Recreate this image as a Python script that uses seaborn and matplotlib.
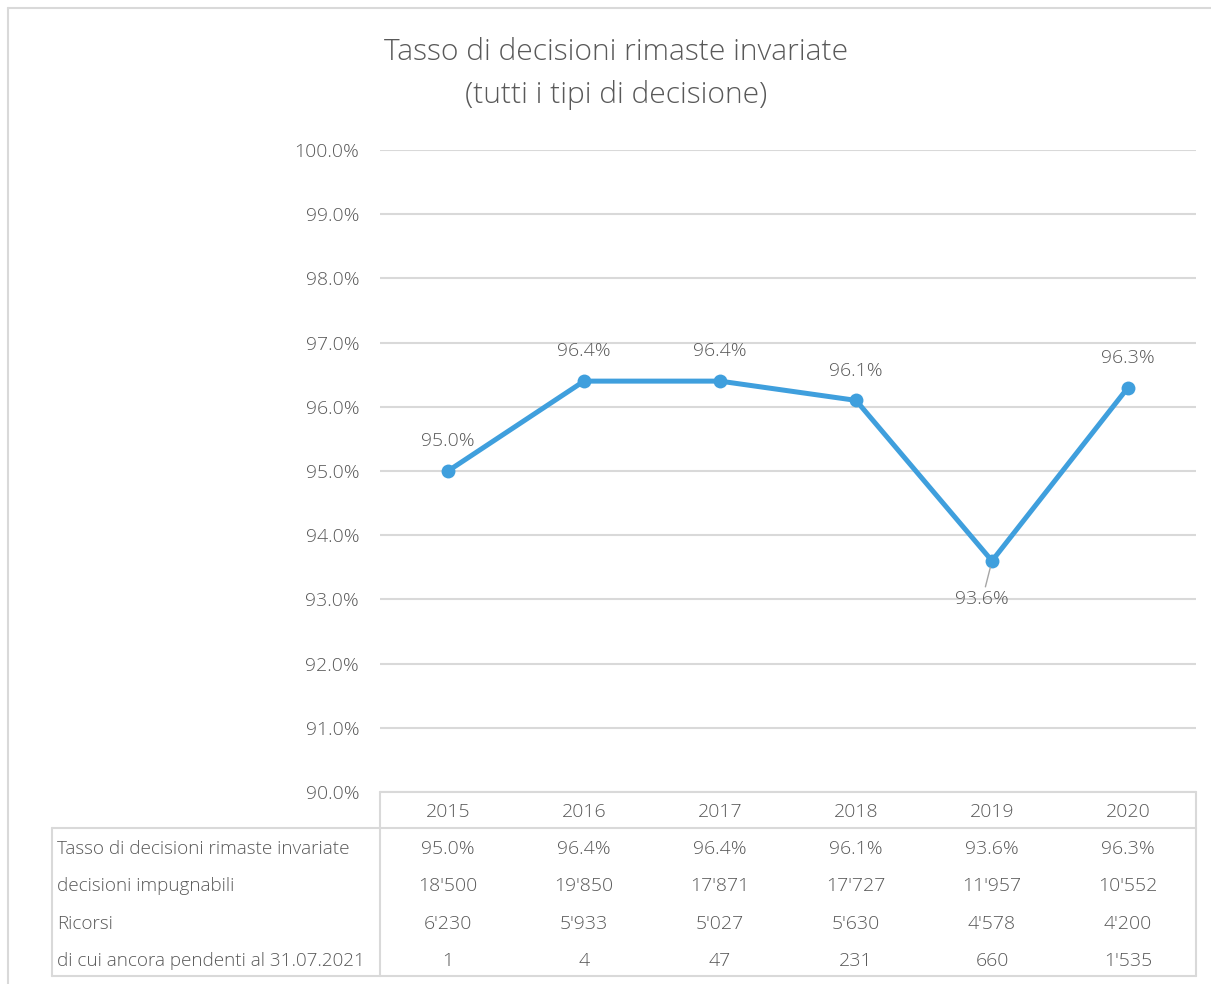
import numpy as np
import pandas as pd
import matplotlib
matplotlib.use("Agg")
import matplotlib.pyplot as plt
from matplotlib.lines import Line2D
import seaborn as sns

####################################################################################
## DATA
years = ["2015", "2016", "2017", "2018", "2019", "2020"]
tasso = [95.0, 96.4, 96.4, 96.1, 93.6, 96.3]
impugnabili = ["18'500", "19'850", "17'871", "17'727", "11'957", "10'552"]
ricorsi = ["6'230", "5'933", "5'027", "5'630", "4'578", "4'200"]
pendenti = ["1", "4", "47", "231", "660", "1'535"]

row_labels = ["Tasso di decisioni rimaste invariate",
              "decisioni impugnabili",
              "Ricorsi",
              "di cui ancora pendenti al 31.07.2021"]
title = "Tasso di decisioni rimaste invariate\n(tutti i tipi di decisione)"

df = pd.DataFrame({"pos": range(len(years)), "tasso": tasso})
####################################################################################

sns.set_theme(style="white")
plt.rcParams["font.family"] = ["Open Sans", "DejaVu Sans"]
plt.rcParams["font.weight"] = "light"

txt = "#595959"
grid = "#d9d9d9"
blue = "#3f9fdd"
fs = 14

W, H = 1211, 984
fig = plt.figure(figsize=(W / 100, H / 100), dpi=100)

# main plot area (pixels: x 380-1196, y 150-792)
ax = fig.add_axes([380 / W, 1 - 792 / H, (1196 - 380) / W, (792 - 150) / H])
sns.lineplot(data=df, x="pos", y="tasso", ax=ax, color=blue, linewidth=3.6,
             marker="o", markersize=10, markeredgewidth=0, zorder=3)
ax.set_xlim(-0.5, len(years) - 0.5)
ax.set_ylim(90, 100)
ax.set_yticks(np.arange(90, 100.1, 1))
ax.set_yticklabels([f"{v:.1f}%" for v in np.arange(90, 100.1, 1)],
                   color=txt, fontsize=fs)
ax.tick_params(axis="y", length=0, pad=15)
ax.set_xticks([])
ax.set_xlabel("")
ax.set_ylabel("")
ax.grid(axis="y", color=grid, linewidth=1.5)
for s in ax.spines.values():
    s.set_visible(False)

# data labels
for i, v in enumerate(tasso):
    if i == 4:
        ax.annotate(f"{v:.1f}%", xy=(i, v), xytext=(-7, -34), textcoords="offset points",
                    ha="center", va="bottom", color=txt, fontsize=fs,
                    arrowprops=dict(arrowstyle="-", color="#a6a6a6", lw=1,
                                    shrinkA=0, shrinkB=5))
    else:
        ax.annotate(f"{v:.1f}%", xy=(i, v), xytext=(0, 15), textcoords="offset points",
                    ha="center", va="bottom", color=txt, fontsize=fs)

# data table (pixels: x 52-1196, y 792-976)
cw = 136.0
left = -0.5 - (380 - 52) / cw
tax = fig.add_axes([52 / W, 1 - 976 / H, (1196 - 52) / W, (976 - 792) / H])
tax.set_xlim(left, len(years) - 0.5)
tax.set_ylim(184, 0)
tax.axis("off")

lw = 1.5
tax.add_line(Line2D([-0.5, 5.5], [0, 0], color=grid, lw=lw))
tax.add_line(Line2D([left, 5.5], [36, 36], color=grid, lw=lw))
tax.add_line(Line2D([left, 5.5], [184, 184], color=grid, lw=lw))
tax.add_line(Line2D([left, left], [36, 184], color=grid, lw=lw))
tax.add_line(Line2D([-0.5, -0.5], [0, 184], color=grid, lw=lw))
tax.add_line(Line2D([5.5, 5.5], [0, 184], color=grid, lw=lw))
for ln in tax.lines:
    ln.set_clip_on(False)

for i, y in enumerate(years):
    tax.text(i, 20, y, ha="center", va="center", color=txt, fontsize=fs)

rows = [[f"{v:.1f}%" for v in tasso], impugnabili, ricorsi, pendenti]
for r, (lab, vals) in enumerate(zip(row_labels, rows)):
    yc = 57 + r * 37.3
    tax.text(left + 0.04, yc, lab, ha="left", va="center", color=txt, fontsize=13.6)
    for i, v in enumerate(vals):
        tax.text(i, yc, v, ha="center", va="center", color=txt, fontsize=fs)

# title
fig.text(616 / W, 1 - 37 / H, title, ha="center", va="top", color=txt,
         fontsize=21.6, linespacing=1.6)

# chart border
fig.add_artist(Line2D([8 / W, 1], [1 - 8 / H, 1 - 8 / H], color=grid, lw=1.5,
                      transform=fig.transFigure))
fig.add_artist(Line2D([8 / W, 8 / W], [0, 1 - 8 / H], color=grid, lw=1.5,
                      transform=fig.transFigure))

plt.savefig("out.png", dpi=100)
